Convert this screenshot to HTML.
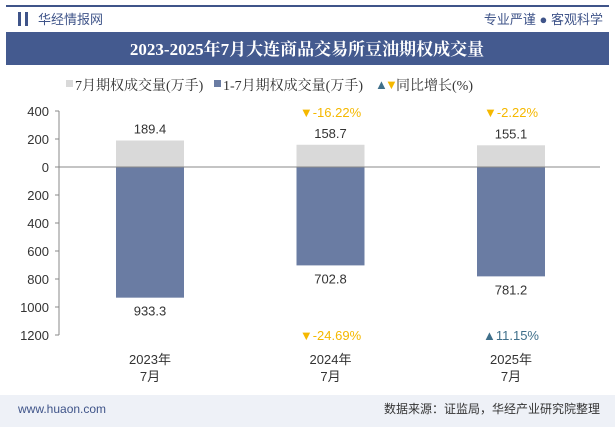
<!DOCTYPE html>
<html><head><meta charset="utf-8"><style>
body{margin:0;width:615px;height:427px;overflow:hidden;background:#fff;font-family:"Liberation Sans","Noto Sans CJK SC",sans-serif;}
svg text{font-family:"Liberation Sans","Noto Sans CJK SC",sans-serif;}
svg text.serif{font-family:"Liberation Serif","Noto Serif CJK SC",serif;}
</style></head><body>
<svg width="615" height="427">
<rect x="0" y="0" width="615" height="427" fill="#fff"/>
<rect x="6" y="5" width="603" height="2" fill="#3f5489"/>
<rect x="18" y="12" width="3" height="14" fill="#3f5489"/><rect x="25" y="12" width="3" height="14" fill="#3f5489"/>
<text x="38" y="24" font-size="13" fill="#3f5489">华经情报网</text>
<text x="603" y="24" font-size="13" fill="#3f5489" text-anchor="end">专业严谨 ● 客观科学</text>
<rect x="6" y="32" width="603" height="33" fill="#445a8f"/>
<text class="serif" x="307" y="55" font-size="17" font-weight="bold" fill="#fff" text-anchor="middle">2023-2025年7月大连商品交易所豆油期权成交量</text>
<g font-size="14" fill="#333">
<rect x="66" y="80" width="7" height="7" fill="#d9d9d9"/><text class="serif" x="75" y="90">7月期权成交量(万手)</text>
<rect x="214" y="80" width="7" height="7" fill="#6a7ca3"/><text class="serif" x="223" y="90">1-7月期权成交量(万手)</text>
<text x="375" y="89" font-size="13" fill="#3f6f8a">▲</text><text x="385" y="89" font-size="13" fill="#f5b800">▼</text><text class="serif" x="396" y="90">同比增长(%)</text>
</g>
<rect x="0" y="395" width="615" height="32" fill="#eef1f7"/>
<text x="18" y="413" font-size="12" fill="#3f5489">www.huaon.com</text>
<text x="600" y="413" font-size="12" fill="#333" text-anchor="end">数据来源：证监局，华经产业研究院整理</text>
<g id="plot"></g>
</svg>
<script>
const categories=["2023年|7月","2024年|7月","2025年|7月"];
const monthly=[189.4,158.7,155.1];
const cumulative=[933.3,702.8,781.2];
const growthMonthly=[null,-16.22,-2.22];
const growthCum=[null,-24.69,11.15];
const ticks=[400,200,0,200,400,600,800,1000,1200];
const tickVals=[400,200,0,-200,-400,-600,-800,-1000,-1200];
const NS="http://www.w3.org/2000/svg";
const g=document.getElementById('plot');
const y0=167,k=56/400,axX=59;
const y=v=>y0-v*k;
const cx=i=>150+i*180.5;
function el(t,a,txt){const e=document.createElementNS(NS,t);for(const n in a)e.setAttribute(n,a[n]);if(txt!=null)e.textContent=txt;g.appendChild(e);return e;}
let ax=el('line',{x1:axX,x2:axX,y1:y(400),y2:y(-1200),stroke:'#888'});


tickVals.forEach((v,i)=>{
 el('line',{x1:axX-4,x2:axX,y1:y(v),y2:y(v),stroke:'#888'});
 let t=el('text',{x:axX-10,y:y(v)+5,'font-size':13,fill:'#333','text-anchor':'end'},ticks[i]);
 
 
});
categories.forEach((c,i)=>{
 const x=cx(i)-34,w=68;
 let b1=el('rect',{x:x,y:y(monthly[i]),width:w,height:monthly[i]*k,fill:'#d9d9d9'});
 
 
 let b2=el('rect',{x:x,y:y0,width:w,height:cumulative[i]*k,fill:'#6a7ca3'});
 
 
 el('text',{x:cx(i),y:y(monthly[i])-7,'font-size':13,fill:'#333','text-anchor':'middle'},monthly[i].toFixed(1));
 el('text',{x:cx(i),y:y(-cumulative[i])+18,'font-size':13,fill:'#333','text-anchor':'middle'},cumulative[i].toFixed(1));
 const p=c.split('|');
 let l=el('text',{x:cx(i),y:364,'font-size':13,fill:'#333','text-anchor':'middle'},p[0]);
 
 
 el('text',{x:cx(i),y:381,'font-size':13,fill:'#333','text-anchor':'middle'},p[1]);
 [[growthMonthly[i],117],[growthCum[i],340]].forEach(([gv,yy])=>{
  if(gv==null)return;
  const up=gv>=0,col=up?'#3f6f8a':'#f5b800';
  let t=el('text',{x:cx(i),y:yy,'font-size':13,fill:col,'text-anchor':'middle'},(up?'▲':'▼')+gv.toFixed(2)+'%');
  
  
 });
});
el('line',{x1:axX,x2:600,y1:y0,y2:y0,stroke:'#888'});
</script>
</body></html>
